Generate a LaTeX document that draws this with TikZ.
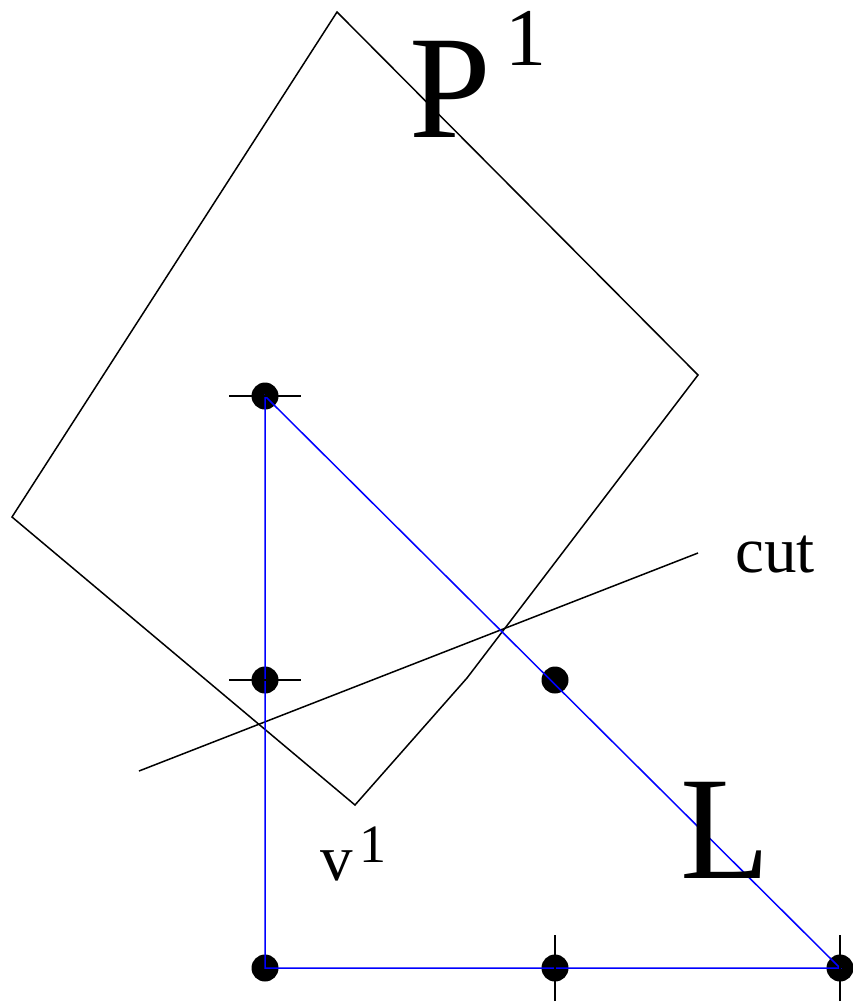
\documentclass[tikz,border=0pt]{standalone}
\usepackage{fontspec}
\setmainfont{Liberation Serif}
\usepackage{tikz}
\usetikzlibrary{positioning}

\begin{document}
\begin{tikzpicture}[x=1pt, y=-1pt,
        dot/.style={circle, fill=black, inner sep=0pt, minimum size=27pt},
        edge/.style={blue, line width=1.5pt},
        poly/.style={black, line width=1.5pt},
        tick/.style={black, line width=1.5pt},
        big/.style={inner sep=0pt, anchor=base west, font=\fontsize{147}{147}\selectfont},
        small/.style={inner sep=0pt, anchor=base west, font=\fontsize{65}{65}\selectfont}
    ]
    \useasboundingbox (0,0) rectangle (852,1007);

    % Polytope P
    \coordinate (ptop) at (337,12);
    \coordinate (pright) at (698,375);
    \coordinate (pkink) at (467,678);
    \coordinate (pbot) at (355,805);
    \coordinate (pleft) at (12,517);
    \draw[poly] (ptop) -- (pright) -- (pkink) -- (pbot) -- (pleft) -- cycle;

    % Cut
    \coordinate (cuta) at (139,771);
    \coordinate (cutb) at (698,553);
    \draw[poly] (cuta) -- (cutb);

    % Triangle L
    \node[dot] (top) at (265,396) {};
    \node[dot] (midl) at (265,680) {};
    \node[dot] (midh) at (555,680) {};
    \node[dot] (corner) at (265,968) {};
    \node[dot] (midb) at (555,968) {};
    \node[dot] (right) at (840,968) {};
    \draw[edge] (top.center) -- (corner.center) -- (right.center) -- cycle;

    % Ticks
    \draw[tick] ([xshift=-36pt]top.center) -- ([xshift=36pt]top.center);
    \draw[tick] ([xshift=-36pt]midl.center) -- ([xshift=36pt]midl.center);
    \draw[tick] ([yshift=-33pt]midb.center) -- ([yshift=33pt]midb.center);
    \draw[tick] ([yshift=-33pt]right.center) -- ([yshift=33pt]right.center);

    % Labels
    \node[big] (plabel) at (409,137) {P\hspace{15pt}\raisebox{72pt}{\fontsize{82}{82}\selectfont 1}};
    \node[big] (llabel) at (680,878) {L};
    \node[small] (cutlabel) at (735,572) {cut};
    \node[small] (vlabel) at (320,880) {v\hspace{7pt}\raisebox{18pt}{\fontsize{54}{54}\selectfont 1}};
\end{tikzpicture}
\end{document}
